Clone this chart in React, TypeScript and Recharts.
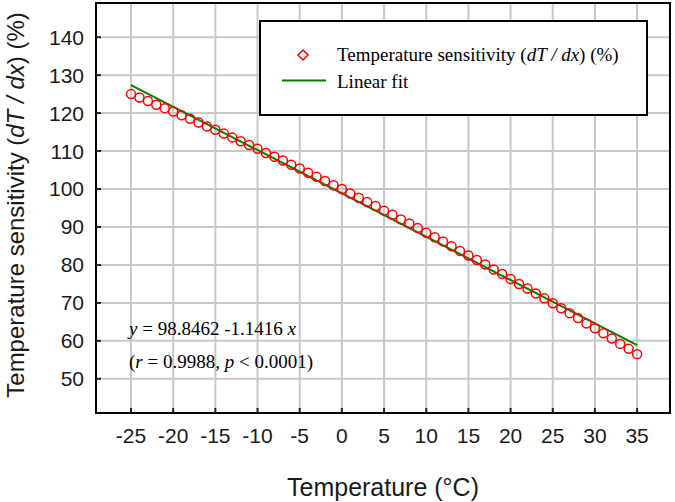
import React from "react";
import {
  CartesianGrid,
  ComposedChart,
  Customized,
  Line,
  ReferenceArea,
  Scatter,
  XAxis,
  YAxis,
} from "recharts";

// temperature (°C) and measured sensitivity (%)
const temps = [
  -25, -24, -23, -22, -21, -20, -19, -18, -17, -16, -15, -14, -13, -12, -11, -10,
  -9, -8, -7, -6, -5, -4, -3, -2, -1, 0, 1, 2, 3, 4, 5, 6, 7, 8, 9, 10, 11, 12,
  13, 14, 15, 16, 17, 18, 19, 20, 21, 22, 23, 24, 25, 26, 27, 28, 29, 30, 31, 32,
  33, 34, 35,
];
const sensitivity = [
  125.0, 124.1, 123.2, 122.2, 121.3, 120.4, 119.4, 118.5, 117.5, 116.5, 115.6,
  114.6, 113.6, 112.6, 111.6, 110.6, 109.5, 108.5, 107.5, 106.4, 105.4, 104.3,
  103.2, 102.1, 101.0, 100.0, 98.8, 97.7, 96.6, 95.5, 94.3, 93.2, 92.0, 90.9,
  89.7, 88.5, 87.3, 86.2, 84.9, 83.7, 82.5, 81.3, 80.1, 78.8, 77.6, 76.3, 75.0,
  73.8, 72.5, 71.2, 69.9, 68.6, 67.3, 66.0, 64.6, 63.3, 62.0, 60.6, 59.2, 57.9,
  56.5,
];
// linear fit end points: y = 98.8462 - 1.1416 x
const fitX = [-25, 35];
const fitY = [127.39, 58.89];

const xTicks = [-25, -20, -15, -10, -5, 0, 5, 10, 15, 20, 25, 30, 35];
const yTicks = [50, 60, 70, 80, 90, 100, 110, 120, 130, 140];
const xDomain = [-29.15, 38.9];
const yDomain = [41, 149];

const points = temps.map((t, i) => ({ x: t, y: sensitivity[i] }));
const fitPoints = fitX.map((t, i) => ({ x: t, y: fitY[i] }));

const SANS = "'Liberation Sans', Arial, sans-serif";
const SERIF = "'Liberation Serif', 'Times New Roman', serif";

const Ring = (p: any) => (
  <circle cx={p.cx} cy={p.cy} r={4.5} fill="none" stroke="#ff0000" strokeWidth={1.5} />
);

function Extras() {
  return (
    <g>
      {/* legend */}
      <rect x={260} y={21} width={387} height={94} fill="#fff" stroke="#000" strokeWidth={2} />
      <path d="M303 50 L308 55 L303 60 L298 55 Z" fill="#fff" stroke="#ff0000" strokeWidth={1.5} />
      <line x1={282} x2={326} y1={80.5} y2={80.5} stroke="#008000" strokeWidth={2} />
      <text x={337} y={61} fontFamily={SERIF} fontSize={19} fill="#000">
        Temperature sensitivity (<tspan fontStyle="italic">dT / dx</tspan>) (%)
      </text>
      <text x={337} y={88} fontFamily={SERIF} fontSize={19} fill="#000">
        Linear fit
      </text>

      {/* fit annotation */}
      <text x={129} y={335} fontFamily={SERIF} fontSize={19} fill="#000">
        <tspan fontStyle="italic">y</tspan> = 98.8462 -1.1416 <tspan fontStyle="italic">x</tspan>
      </text>
      <text x={129} y={368} fontFamily={SERIF} fontSize={19} fill="#000">
        (<tspan fontStyle="italic">r</tspan> = 0.9988, <tspan fontStyle="italic">p</tspan> &lt; 0.0001)
      </text>

      {/* axis titles */}
      <text x={383} y={496} textAnchor="middle" fontFamily={SANS} fontSize={25} fill="#1a1a1a">
        Temperature (°C)
      </text>
      <text
        x={0}
        y={0}
        transform="translate(24 205) rotate(-90)"
        textAnchor="middle"
        fontFamily={SANS}
        fontSize={24}
        fill="#1a1a1a"
      >
        Temperature sensitivity (<tspan fontStyle="italic">dT / dx</tspan>) (%)
      </text>
    </g>
  );
}

export default function App() {
  return (
    <div style={{ position: "absolute", left: 0, top: 0, width: 675, height: 502, background: "#fff" }}>
      <ComposedChart width={675} height={502} margin={{ top: 3, right: 5, bottom: 0, left: 0 }}>
        <CartesianGrid stroke="#c8c8c8" strokeWidth={2} />
        <XAxis
          type="number"
          dataKey="x"
          domain={xDomain}
          ticks={xTicks}
          interval={0}
          allowDataOverflow
          height={89}
          tickSize={-5}
          tickMargin={20}
          axisLine={{ stroke: "#000", strokeWidth: 2 }}
          tickLine={{ stroke: "#222", strokeWidth: 2 }}
          tick={{ fill: "#1a1a1a", fontSize: 21, fontFamily: SANS }}
        />
        <YAxis
          type="number"
          dataKey="y"
          domain={yDomain}
          ticks={yTicks}
          interval={0}
          allowDataOverflow
          width={96}
          tickSize={-5}
          tickMargin={17}
          axisLine={{ stroke: "#000", strokeWidth: 2 }}
          tickLine={{ stroke: "#222", strokeWidth: 2 }}
          tick={{ fill: "#1a1a1a", fontSize: 21, fontFamily: SANS }}
        />
        <ReferenceArea
          x1={xDomain[0]}
          x2={xDomain[1]}
          y1={yDomain[0]}
          y2={yDomain[1]}
          fill="none"
          stroke="#000"
          strokeWidth={2}
          ifOverflow="visible"
        />
        <Line
          data={fitPoints}
          dataKey="y"
          type="linear"
          stroke="#008000"
          strokeWidth={2}
          dot={false}
          activeDot={false}
          isAnimationActive={false}
        />
        <Scatter data={points} dataKey="y" shape={Ring} isAnimationActive={false} />
        <Customized component={Extras} />
      </ComposedChart>
    </div>
  );
}
